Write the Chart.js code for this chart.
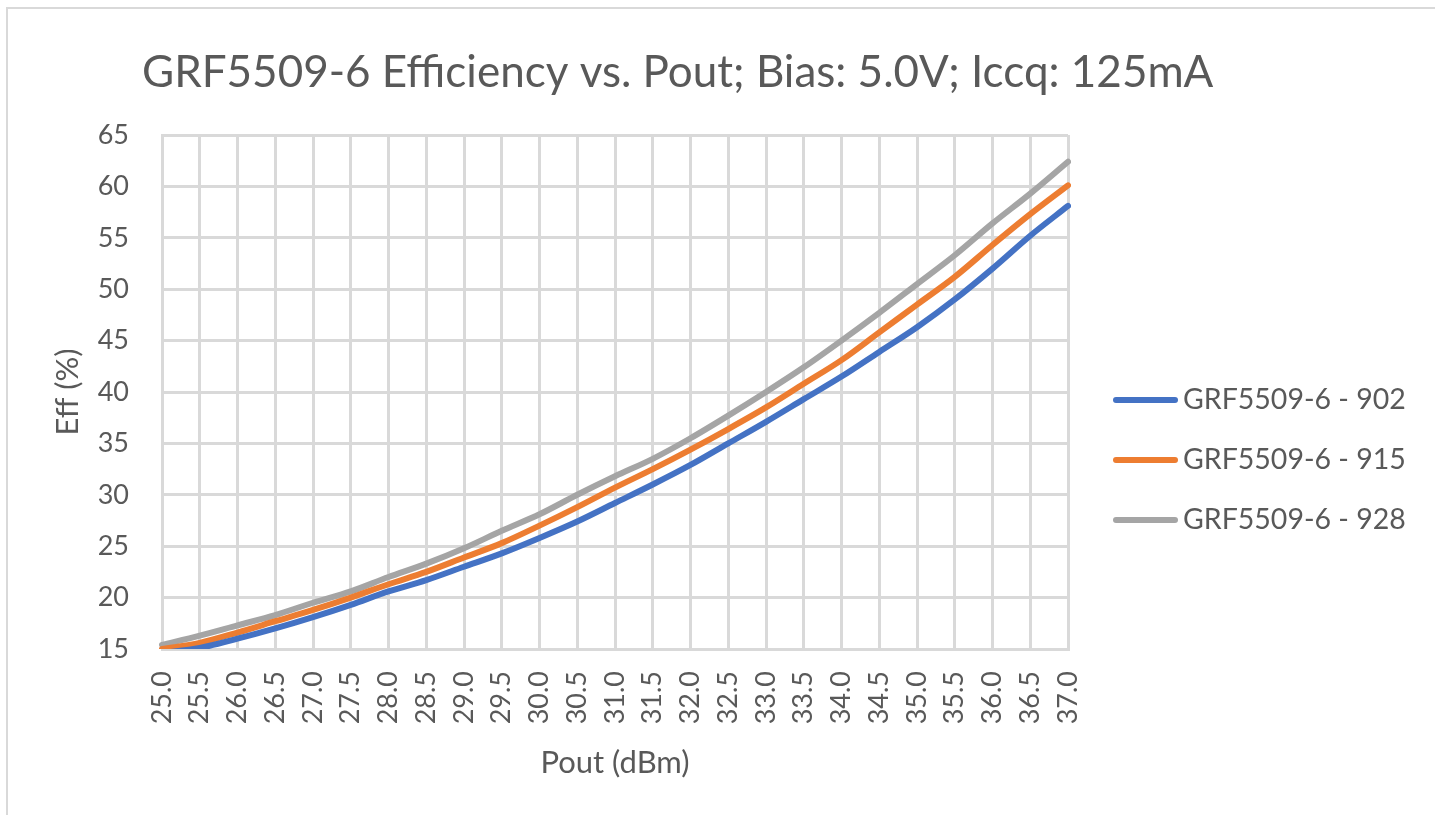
<!DOCTYPE html>
<html>
<head>
<meta charset="utf-8">
<script src="https://cdn.jsdelivr.net/npm/chart.js@4.4.1/dist/chart.umd.min.js"></script>
<style>
  html, body { margin: 0; padding: 0; background: #ffffff; }
  #wrap { width: 1435px; height: 815px; position: relative; }
</style>
</head>
<body>
<div id="wrap"><canvas id="effChart" width="1435" height="815"></canvas></div>
<script>
const chartTitle = "GRF5509-6 Efficiency vs. Pout; Bias: 5.0V; Iccq: 125mA";
const seriesNames = ["GRF5509-6 - 902", "GRF5509-6 - 915", "GRF5509-6 - 928"];
const seriesColors = ["#4472C4", "#ED7D31", "#A5A5A5"];

// Pout (dBm)
const pout = [25.0, 25.5, 26.0, 26.5, 27.0, 27.5, 28.0, 28.5, 29.0, 29.5, 30.0, 30.5,
              31.0, 31.5, 32.0, 32.5, 33.0, 33.5, 34.0, 34.5, 35.0, 35.5, 36.0, 36.5, 37.0];

// Eff (%)
const eff902 = [14.6, 15.1, 16.0, 17.0, 18.1, 19.3, 20.6, 21.7, 23.0, 24.3, 25.8, 27.4,
                29.2, 31.0, 32.9, 35.0, 37.1, 39.3, 41.5, 43.9, 46.3, 49.0, 52.0, 55.2, 58.1];
const eff915 = [15.0, 15.6, 16.6, 17.7, 18.8, 20.0, 21.3, 22.5, 23.9, 25.3, 27.0, 28.8,
                30.7, 32.5, 34.4, 36.4, 38.5, 40.8, 43.1, 45.8, 48.5, 51.2, 54.3, 57.3, 60.1];
const eff928 = [15.4, 16.3, 17.3, 18.3, 19.5, 20.6, 22.0, 23.3, 24.8, 26.5, 28.1, 30.0,
                31.8, 33.5, 35.5, 37.7, 40.0, 42.4, 45.0, 47.7, 50.5, 53.3, 56.4, 59.3, 62.4];

const textColor = "#595959";
const gridColor = "#D9D9D9";
const fontFamily = "Lato, 'Open Sans', sans-serif";

function toPoints(values) {
    return pout.map((x, i) => ({ x: x, y: values[i] }));
}

const seriesValues = [eff902, eff915, eff928];
const datasets = seriesValues.map((values, i) => ({
    label: seriesNames[i],
    data: toPoints(values),
    borderColor: seriesColors[i],
    backgroundColor: seriesColors[i],
    borderWidth: 6,
    borderCapStyle: "round",
    pointRadius: 0,
    cubicInterpolationMode: "monotone",
    clip: { left: 3, top: 3, right: 3, bottom: 0 }
}));

// frame, title and legend, like the Excel chart
const decorations = {
    id: "decorations",
    beforeDraw(chart) {
        const c = chart.ctx;
        c.save();
        c.fillStyle = "#ffffff";
        c.fillRect(0, 0, chart.width, chart.height);
        c.strokeStyle = gridColor;
        c.lineWidth = 2;
        c.strokeRect(7, 8, chart.width + 20, chart.height + 20);
        c.restore();
    },
    afterDraw(chart) {
        const c = chart.ctx;
        c.save();
        c.fillStyle = textColor;
        c.font = "44px " + fontFamily;
        c.textBaseline = "alphabetic";
        c.textAlign = "left";
        c.fillText(chartTitle, 142, 87);

        c.font = "28.5px " + fontFamily;
        c.textBaseline = "middle";
        chart.data.datasets.forEach((ds, i) => {
            const y = 400 + i * 60;
            c.strokeStyle = ds.borderColor;
            c.lineWidth = 6;
            c.lineCap = "round";
            c.beginPath();
            c.moveTo(1116, y);
            c.lineTo(1175, y);
            c.stroke();
            c.fillText(ds.label, 1183, y);
        });
        c.restore();
    }
};

const ctx = document.getElementById("effChart").getContext("2d");

new Chart(ctx, {
    type: "line",
    data: { datasets: datasets },
    options: {
        responsive: false,
        animation: false,
        layout: { padding: { left: 0, top: 135, right: 367, bottom: 0 } },
        plugins: {
            legend: { display: false },
            title: { display: false },
            tooltip: { enabled: false }
        },
        scales: {
            x: {
                type: "linear",
                min: 25,
                max: 37,
                afterFit(scale) { scale.height = 166; },
                ticks: {
                    stepSize: 0.5,
                    minRotation: 90,
                    maxRotation: 90,
                    padding: 22,
                    color: textColor,
                    font: { family: fontFamily, size: 27 },
                    callback: (v) => Number(v).toFixed(1)
                },
                grid: { color: gridColor, lineWidth: 3, drawTicks: false },
                border: { color: gridColor, width: 3 },
                title: {
                    display: true,
                    text: "Pout (dBm)",
                    color: textColor,
                    font: { family: fontFamily, size: 31 },
                    padding: { top: 0, bottom: 33 }
                }
            },
            y: {
                min: 15,
                max: 65,
                afterFit(scale) { scale.width = 162; },
                ticks: {
                    stepSize: 5,
                    padding: 33,
                    color: textColor,
                    font: { family: fontFamily, size: 27 }
                },
                grid: { color: gridColor, lineWidth: 3, drawTicks: false },
                border: { color: gridColor, width: 3 },
                title: {
                    display: true,
                    text: "Eff (%)",
                    color: textColor,
                    font: { family: fontFamily, size: 31 },
                    padding: { top: 49, bottom: 0 }
                }
            }
        }
    },
    plugins: [decorations]
});
</script>
</body>
</html>
